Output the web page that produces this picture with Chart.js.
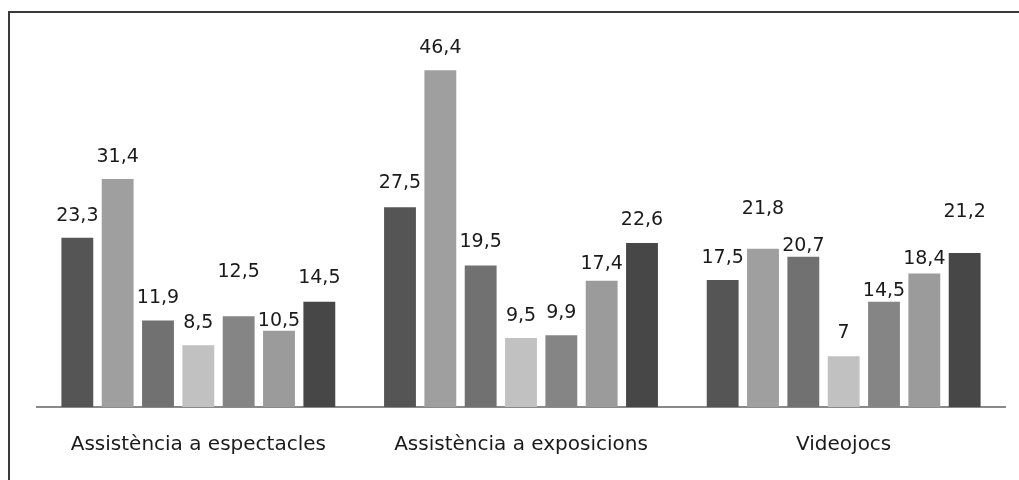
<!DOCTYPE html>
<html>
<head>
<meta charset="utf-8">
<script src="https://cdn.jsdelivr.net/npm/chart.js@4"></script>
<style>
  html, body { margin: 0; padding: 0; background: #fff; }
  #wrap { position: relative; width: 1019px; height: 480px; overflow: hidden; }
  #frame { position: absolute; left: 8px; top: 11px; width: 1100px; height: 600px;
           border-left: 2px solid #3a3a3a; border-top: 2px solid #3a3a3a; }
  canvas { position: absolute; left: 0; top: 0; }
</style>
</head>
<body>
<div id="wrap">
  <div id="frame"></div>
  <canvas id="chart" width="1019" height="480"></canvas>
</div>
<script>
// categories and series values (percentages)
const categories = ['Assistència a espectacles', 'Assistència a exposicions', 'Videojocs'];
const serie1 = [23.3, 27.5, 17.5];
const serie2 = [31.4, 46.4, 21.8];
const serie3 = [11.9, 19.5, 20.7];
const serie4 = [8.5, 9.5, 7];
const serie5 = [12.5, 9.9, 14.5];
const serie6 = [10.5, 17.4, 18.4];
const serie7 = [14.5, 22.6, 21.2];

const allSeries = [serie1, serie2, serie3, serie4, serie5, serie6, serie7];
const greys = ['#555555', '#9f9f9f', '#717171', '#c1c1c1', '#858585', '#9b9b9b', '#474747'];

// how far above the bar top each value label sits (px), to dodge overlaps like the original
const labelLift = [
  [22, 24, 22],
  [22, 22, 40],
  [23, 23, 11],
  [22, 22, 23],
  [44, 22, 11],
  [10, 17, 14],
  [24, 23, 41]
];

const valueLabels = {
  id: 'valueLabels',
  afterDatasetsDraw(chart) {
    const ctx = chart.ctx;
    ctx.save();
    ctx.font = '19px "DejaVu Sans"';
    ctx.fillStyle = '#1a1a1a';
    ctx.textAlign = 'center';
    ctx.textBaseline = 'middle';
    chart.data.datasets.forEach((ds, i) => {
      chart.getDatasetMeta(i).data.forEach((bar, j) => {
        const txt = String(ds.data[j]).replace('.', ',');
        ctx.fillText(txt, bar.x, bar.y - labelLift[i][j]);
      });
    });
    ctx.restore();
  }
};

new Chart(document.getElementById('chart'), {
  type: 'bar',
  data: {
    labels: categories,
    datasets: allSeries.map((s, i) => ({
      label: 'Sèrie ' + (i + 1),
      data: s,
      backgroundColor: greys[i],
      categoryPercentage: 0.875,
      barPercentage: 0.79
    }))
  },
  options: {
    responsive: false,
    animation: false,
    layout: { padding: { left: 37, right: 14, top: 44, bottom: 5 } },
    plugins: { legend: { display: false }, tooltip: { enabled: false } },
    scales: {
      x: {
        grid: { display: false },
        border: { display: true, color: '#8a8a8a', width: 2 },
        ticks: { color: '#1a1a1a', padding: 18, font: { family: 'DejaVu Sans', size: 20 } }
      },
      y: { display: false, min: 0, max: 50 }
    }
  },
  plugins: [valueLabels]
});
</script>
</body>
</html>
